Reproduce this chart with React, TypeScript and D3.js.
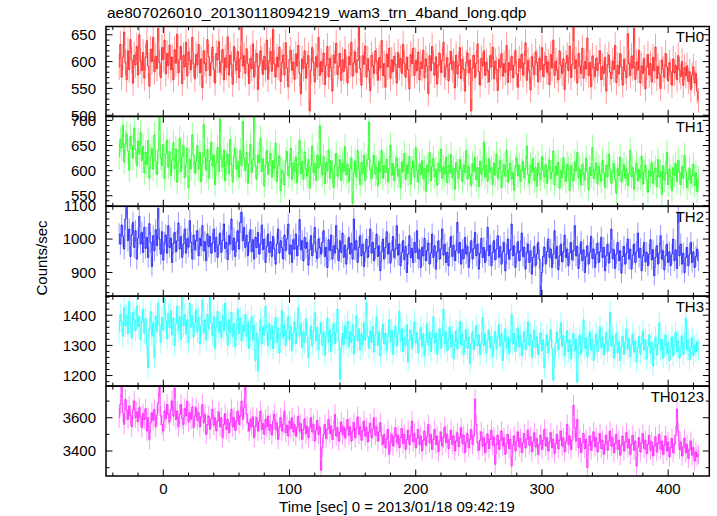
import React from "react";
import * as d3 from "d3";

const TITLE = "ae807026010_20130118094219_wam3_trn_4band_long.qdp";
const X_LABEL = "Time [sec] 0 = 2013/01/18 09:42:19";
const Y_LABEL = "Counts/sec";

// time bins: start (s) and width (s)
const BIN_START = -35;
const BIN_SIZE = 1;

const xDomain = [-45.4, 432.6];
const xMajorTicks = [0, 100, 200, 300, 400];
const xMinorStep = 20;

const th0 = [
  590, 632, 571, 608, 655, 598, 566, 620, 585, 641, 603, 560, 612, 594, 628, 575, 650, 601, 583, 617,
  569, 608, 639, 592, 554, 623, 600, 645, 581, 610, 587, 662, 598, 570, 626, 604, 640, 577, 615, 593,
  631, 585, 608, 566, 622, 597, 651, 579, 604, 628, 559, 611, 590, 636, 573, 618, 602, 585, 645, 596,
  568, 613, 594, 632, 579, 605, 551, 620, 597, 583, 641, 609, 574, 598, 627, 586, 560, 615, 603, 637,
  580, 599, 622, 566, 607, 589, 646, 575, 612, 595, 558, 628, 601, 584, 619, 570, 605, 664, 592, 611,
  578, 624, 596, 559, 606, 587, 633, 571, 599, 615, 548, 591, 620, 603, 576, 610, 585, 640, 567, 602,
  619, 582, 660, 596, 571, 608, 590, 627, 563, 598, 612, 575, 635, 588, 553, 604, 621, 584, 599, 567,
  614, 592, 630, 578, 540, 605, 587, 620, 569, 596, 611, 508, 583, 626, 598, 562, 609, 590, 645, 574,
  600, 581, 616, 557, 593, 628, 572, 606, 589, 545, 612, 597, 634, 576, 591, 615, 565, 603, 582, 622,
  588, 560, 609, 594, 636, 573, 598, 618, 580, 602, 665, 587, 556, 611, 595, 629, 571, 605, 584, 546,
  612, 593, 578, 620, 601, 565, 607, 588, 639, 574, 596, 552, 614, 590, 625, 569, 603, 581, 610, 594,
  560, 617, 589, 606, 578, 632, 597, 571, 608, 585, 549, 613, 596, 625, 574, 602, 583, 618, 566, 599,
  587, 621, 570, 605, 592, 540, 611, 583, 628, 597, 575, 609, 558, 594, 615, 580, 602, 636, 571, 590,
  607, 564, 596, 619, 585, 600, 551, 612, 577, 593, 626, 568, 604, 586, 545, 598, 616, 579, 603, 508,
  588, 612, 570, 597, 633, 581, 556, 606, 592, 620, 574, 599, 583, 562, 611, 590, 627, 568, 601, 585,
  546, 604, 589, 615, 573, 596, 580, 630, 561, 598, 584, 610, 570, 593, 621, 577, 552, 605, 588, 614,
  575, 596, 635, 565, 602, 583, 547, 609, 591, 576, 618, 598, 562, 606, 585, 626, 572, 594, 610, 580,
  599, 557, 613, 588, 640, 574, 601, 584, 566, 620, 593, 578, 605, 548, 597, 611, 583, 629, 570, 595,
  664, 587, 603, 560, 615, 592, 578, 625, 569, 600, 586, 644, 574, 598, 553, 610, 589, 572, 606, 584,
  597, 620, 566, 591, 578, 608, 545, 594, 612, 580, 568, 601, 585, 630, 561, 593, 577, 615, 590, 556,
  604, 583, 570, 652, 596, 574, 610, 588, 662, 567, 599, 584, 621, 560, 592, 578, 606, 549, 590, 613,
  575, 596, 562, 608, 583, 627, 569, 591, 578, 550, 603, 586, 571, 615, 590, 564, 598, 581, 556, 605,
  579, 593, 566, 611, 584, 572, 600, 556, 589, 574, 592, 563, 581, 548, 575, 590, 560, 578, 545, 528,
];

const th1 = [
  628, 662, 645, 690, 617, 654, 673, 639, 601, 668, 650, 625, 685, 642, 610, 659, 633, 676, 620, 648,
  596, 637, 612, 660, 585, 628, 644, 603, 671, 619, 592, 640, 706, 626, 610, 652, 584, 633, 661, 607,
  638, 590, 621, 656, 604, 643, 577, 617, 664, 598, 629, 650, 586, 613, 645, 566, 622, 604, 671, 631,
  595, 618, 650, 603, 636, 578, 614, 692, 627, 601, 642, 585, 620, 657, 609, 631, 572, 615, 646, 598,
  703, 623, 607, 641, 580, 616, 633, 594, 662, 612, 578, 628, 645, 603, 619, 587, 640, 610, 698, 625,
  600, 636, 575, 613, 652, 596, 622, 706, 609, 583, 631, 616, 664, 598, 624, 569, 611, 640, 593, 617,
  634, 587, 620, 605, 655, 578, 612, 629, 560, 601, 596, 571, 619, 638, 590, 608, 645, 583, 615, 598,
  627, 576, 612, 660, 594, 618, 583, 637, 603, 589, 622, 565, 608, 649, 596, 614, 580, 631, 605, 690,
  611, 592, 628, 574, 616, 600, 641, 585, 620, 597, 566, 610, 634, 589, 606, 622, 580, 615, 598, 648,
  592, 613, 578, 604, 625, 535, 596, 619, 587, 640, 603, 572, 616, 594, 631, 580, 609, 622, 697, 601,
  584, 612, 630, 593, 606, 570, 618, 599, 640, 585, 610, 596, 623, 577, 604, 651, 591, 614, 580, 607,
  625, 589, 603, 566, 617, 598, 634, 582, 611, 594, 628, 573, 605, 619, 587, 646, 600, 578, 613, 592,
  620, 584, 604, 559, 611, 597, 636, 580, 609, 624, 588, 602, 571, 615, 598, 643, 585, 607, 593, 627,
  576, 610, 595, 632, 587, 605, 563, 616, 599, 585, 622, 604, 578, 612, 596, 640, 583, 608, 590, 571,
  614, 598, 627, 582, 606, 568, 619, 593, 603, 657, 587, 611, 579, 624, 597, 606, 572, 615, 591, 633,
  585, 604, 620, 566, 598, 612, 589, 640, 577, 602, 615, 583, 596, 561, 608, 625, 590, 611, 579, 600,
  618, 586, 604, 649, 592, 575, 611, 597, 624, 580, 606, 569, 615, 594, 583, 628, 601, 588, 612, 574,
  603, 621, 584, 597, 639, 572, 609, 591, 617, 565, 600, 586, 626, 595, 579, 613, 604, 560, 610, 592,
  580, 617, 599, 636, 586, 603, 571, 612, 594, 581, 625, 598, 562, 607, 590, 646, 584, 601, 615, 573,
  608, 592, 579, 620, 596, 566, 611, 588, 633, 602, 575, 597, 614, 583, 555, 604, 590, 627, 578, 599,
  612, 585, 603, 570, 594, 641, 588, 606, 563, 597, 615, 580, 602, 586, 629, 573, 598, 611, 582, 557,
  600, 589, 616, 575, 596, 605, 568, 622, 587, 598, 553, 610, 581, 594, 636, 572, 603, 588, 560, 606,
  591, 614, 578, 620, 597, 572, 608, 585, 630, 599, 566, 583, 604, 575, 590, 612, 570, 596, 558, 585,
];

const th2 = [
  1015, 985, 1042, 1008, 970, 1060, 1098, 995, 1030, 948, 1012, 1050, 975, 1025, 940, 1003, 1068, 985, 1020, 960,
  1035, 972, 1005, 945, 1046, 990, 918, 1010, 965, 1028, 980, 1092, 1000, 955, 1022, 937, 990, 1012, 958, 1040,
  975, 1003, 930, 987, 1020, 962, 995, 1048, 970, 1008, 945, 985, 1030, 958, 1001, 976, 1055, 990, 940, 1012,
  968, 995, 1025, 950, 1002, 980, 1040, 965, 992, 935, 1015, 977, 1008, 958, 988, 1030, 962, 1005, 945, 983,
  1018, 960, 996, 1045, 972, 990, 938, 1010, 985, 1060, 967, 1003, 948, 992, 1025, 970, 1050, 1080, 995, 1035,
  975, 1012, 950, 990, 1028, 962, 998, 940, 1005, 975, 1020, 955, 985, 1042, 968, 1000, 930, 978, 1015, 960,
  992, 948, 1008, 970, 925, 985, 1030, 958, 995, 975, 940, 1012, 965, 1000, 1045, 955, 982, 930, 998, 970,
  1015, 950, 980, 1058, 968, 995, 935, 1005, 972, 990, 922, 968, 1010, 950, 985, 1035, 962, 942, 1000, 975,
  955, 990, 1025, 948, 975, 915, 998, 965, 1012, 940, 980, 958, 1040, 970, 935, 995, 960, 1018, 945, 982,
  925, 970, 1005, 955, 988, 940, 1060, 968, 995, 930, 975, 1010, 950, 985, 918, 962, 1000, 945, 978, 1030,
  958, 990, 935, 972, 1015, 948, 980, 905, 962, 1000, 940, 975, 1022, 955, 988, 928, 965, 1008, 945, 970,
  1040, 952, 985, 920, 960, 995, 938, 978, 900, 955, 1010, 945, 972, 930, 990, 960, 1025, 942, 968, 915,
  975, 950, 1002, 935, 965, 988, 925, 958, 1015, 945, 980, 910, 962, 995, 940, 970, 1030, 952, 985, 930,
  960, 920, 975, 1008, 948, 982, 935, 965, 1050, 958, 990, 925, 968, 942, 1005, 955, 978, 915, 960, 995,
  940, 972, 1020, 950, 985, 910, 958, 1002, 945, 975, 930, 965, 1035, 950, 982, 920, 960, 995, 938, 970,
  1010, 945, 978, 925, 962, 990, 905, 955, 1000, 940, 968, 1045, 950, 980, 915, 958, 992, 935, 965, 1018,
  948, 975, 910, 960, 985, 930, 965, 895, 945, 978, 920, 955, 990, 940, 832, 900, 948, 975, 925, 962,
  1000, 945, 970, 915, 955, 1025, 942, 978, 908, 950, 985, 932, 962, 1012, 945, 970, 920, 958, 990, 938,
  965, 1040, 950, 978, 912, 955, 992, 935, 968, 900, 948, 980, 925, 960, 1008, 942, 970, 915, 955, 988,
  930, 962, 1005, 945, 975, 905, 950, 985, 928, 960, 1030, 942, 968, 912, 955, 990, 935, 965, 898, 948,
  978, 925, 958, 1000, 940, 970, 910, 952, 985, 930, 962, 1018, 945, 972, 905, 950, 990, 932, 960, 920,
  955, 998, 938, 968, 890, 945, 980, 925, 958, 1010, 940, 965, 908, 950, 985, 930, 962, 920, 955, 1000,
  935, 968, 912, 1078, 950, 985, 925, 958, 900, 945, 975, 920, 955, 990, 930, 962, 915, 948, 970, 935,
];

const th3 = [
  1345, 1402, 1380, 1330, 1425, 1365, 1398, 1340, 1445, 1372, 1325, 1410, 1385, 1350, 1430, 1362, 1395, 1318, 1378, 1420,
  1340, 1388, 1300, 1225, 1355, 1412, 1330, 1375, 1260, 1398, 1345, 1440, 1368, 1310, 1392, 1350, 1455, 1380, 1322, 1405,
  1358, 1415, 1335, 1390, 1300, 1372, 1430, 1348, 1395, 1320, 1460, 1365, 1402, 1338, 1385, 1310, 1440, 1360, 1398, 1328,
  1375, 1418, 1345, 1392, 1305, 1366, 1450, 1340, 1385, 1318, 1402, 1355, 1460, 1375, 1332, 1395, 1290, 1360, 1412, 1345,
  1380, 1325, 1398, 1350, 1440, 1368, 1300, 1385, 1342, 1410, 1330, 1372, 1295, 1355, 1420, 1338, 1390, 1315, 1365, 1345,
  1402, 1330, 1378, 1290, 1350, 1395, 1318, 1368, 1250, 1340, 1215, 1325, 1385, 1305, 1362, 1335, 1430, 1348, 1298, 1372,
  1320, 1365, 1290, 1345, 1392, 1310, 1358, 1275, 1338, 1415, 1325, 1368, 1300, 1350, 1395, 1318, 1362, 1282, 1340, 1378,
  1305, 1355, 1425, 1330, 1372, 1292, 1345, 1310, 1388, 1335, 1260, 1322, 1365, 1298, 1350, 1408, 1315, 1360, 1285, 1338,
  1375, 1300, 1345, 1268, 1328, 1390, 1310, 1352, 1280, 1335, 1372, 1305, 1345, 1420, 1318, 1188, 1290, 1340, 1302, 1365,
  1322, 1380, 1295, 1345, 1310, 1368, 1272, 1330, 1398, 1315, 1355, 1285, 1338, 1302, 1375, 1318, 1440, 1330, 1290, 1348,
  1310, 1362, 1278, 1335, 1395, 1300, 1345, 1265, 1322, 1370, 1305, 1340, 1282, 1328, 1385, 1312, 1350, 1270, 1330, 1362,
  1298, 1340, 1412, 1315, 1355, 1280, 1325, 1300, 1368, 1245, 1318, 1350, 1290, 1335, 1378, 1308, 1342, 1275, 1320, 1360,
  1295, 1338, 1265, 1312, 1372, 1302, 1345, 1280, 1325, 1395, 1308, 1340, 1270, 1318, 1355, 1290, 1332, 1420, 1305, 1345,
  1282, 1320, 1362, 1295, 1335, 1255, 1310, 1348, 1288, 1325, 1380, 1300, 1338, 1270, 1315, 1352, 1290, 1328, 1240, 1305,
  1345, 1285, 1322, 1365, 1298, 1335, 1268, 1310, 1392, 1300, 1338, 1275, 1318, 1350, 1292, 1330, 1262, 1308, 1345, 1288,
  1325, 1370, 1298, 1338, 1250, 1312, 1355, 1290, 1328, 1272, 1315, 1402, 1305, 1340, 1280, 1320, 1358, 1295, 1332, 1265,
  1310, 1345, 1285, 1322, 1378, 1300, 1335, 1260, 1315, 1350, 1292, 1328, 1270, 1305, 1342, 1282, 1318, 1225, 1298, 1335,
  1275, 1315, 1352, 1290, 1185, 1262, 1308, 1345, 1285, 1322, 1375, 1298, 1332, 1265, 1310, 1348, 1280, 1318, 1255, 1302,
  1340, 1282, 1320, 1178, 1295, 1335, 1272, 1310, 1385, 1290, 1325, 1262, 1302, 1345, 1285, 1318, 1250, 1300, 1338, 1278,
  1315, 1360, 1292, 1328, 1268, 1305, 1342, 1280, 1318, 1410, 1298, 1332, 1258, 1300, 1340, 1275, 1312, 1250, 1295, 1330,
  1270, 1308, 1355, 1288, 1322, 1262, 1300, 1338, 1278, 1315, 1245, 1292, 1330, 1272, 1305, 1348, 1285, 1318, 1255, 1298,
  1335, 1275, 1310, 1232, 1290, 1328, 1268, 1305, 1375, 1285, 1320, 1258, 1298, 1335, 1272, 1310, 1250, 1292, 1328, 1265,
  1302, 1345, 1280, 1315, 1258, 1295, 1332, 1270, 1308, 1390, 1285, 1318, 1252, 1292, 1325, 1268, 1300, 1278, 1312, 1285,
];

const th0123 = [
  3600, 3680, 3785, 3630, 3560, 3710, 3645, 3590, 3670, 3615, 3545, 3650, 3700, 3600, 3635, 3575, 3660, 3610, 3540, 3625,
  3590, 3655, 3520, 3600, 3470, 3570, 3630, 3585, 3650, 3545, 3615, 3690, 3785, 3610, 3560, 3520, 3640, 3595, 3680, 3620,
  3575, 3650, 3700, 3610, 3778, 3590, 3640, 3545, 3620, 3680, 3595, 3560, 3655, 3610, 3700, 3575, 3630, 3590, 3665, 3540,
  3610, 3660, 3585, 3630, 3545, 3605, 3680, 3570, 3620, 3500, 3560, 3610, 3530, 3595, 3650, 3555, 3600, 3520, 3580, 3635,
  3545, 3600, 3480, 3560, 3625, 3530, 3590, 3510, 3570, 3650, 3545, 3600, 3525, 3580, 3640, 3560, 3610, 3700, 3590, 3660,
  3790, 3620, 3570, 3520, 3590, 3545, 3605, 3480, 3550, 3600, 3520, 3575, 3640, 3530, 3565, 3500, 3590, 3545, 3610, 3525,
  3560, 3495, 3580, 3620, 3530, 3570, 3470, 3545, 3600, 3520, 3560, 3640, 3510, 3555, 3490, 3580, 3535, 3600, 3515, 3560,
  3490, 3540, 3610, 3520, 3565, 3470, 3530, 3595, 3505, 3550, 3480, 3540, 3600, 3515, 3560, 3460, 3525, 3585, 3500, 3545,
  3285, 3420, 3500, 3560, 3475, 3530, 3590, 3505, 3550, 3470, 3525, 3620, 3490, 3540, 3460, 3515, 3575, 3500, 3545, 3480,
  3530, 3590, 3495, 3545, 3460, 3520, 3570, 3480, 3535, 3605, 3500, 3545, 3465, 3520, 3580, 3490, 3540, 3455, 3515, 3565,
  3480, 3530, 3600, 3495, 3545, 3460, 3515, 3570, 3490, 3440, 3500, 3420, 3470, 3530, 3380, 3455, 3500, 3430, 3485, 3540,
  3450, 3495, 3420, 3480, 3535, 3445, 3500, 3410, 3470, 3525, 3440, 3490, 3580, 3455, 3505, 3420, 3475, 3530, 3440, 3490,
  3400, 3465, 3520, 3435, 3485, 3560, 3450, 3500, 3410, 3470, 3530, 3440, 3490, 3395, 3460, 3515, 3430, 3480, 3545, 3450,
  3500, 3415, 3470, 3525, 3440, 3490, 3400, 3460, 3510, 3425, 3480, 3540, 3445, 3495, 3390, 3455, 3505, 3420, 3470, 3530,
  3440, 3490, 3712, 3560, 3450, 3405, 3465, 3515, 3430, 3480, 3390, 3450, 3500, 3415, 3470, 3525, 3435, 3485, 3320, 3440,
  3495, 3410, 3465, 3520, 3430, 3480, 3380, 3445, 3500, 3415, 3470, 3310, 3435, 3490, 3400, 3460, 3515, 3425, 3475, 3390,
  3450, 3505, 3420, 3470, 3525, 3435, 3485, 3395, 3455, 3510, 3425, 3475, 3380, 3440, 3495, 3410, 3465, 3530, 3430, 3480,
  3400, 3455, 3510, 3420, 3470, 3385, 3445, 3500, 3415, 3465, 3520, 3430, 3480, 3395, 3455, 3560, 3440, 3490, 3410, 3465,
  3676, 3540, 3460, 3590, 3420, 3475, 3390, 3450, 3505, 3415, 3470, 3300, 3435, 3490, 3405, 3460, 3515, 3425, 3480, 3395,
  3450, 3505, 3415, 3465, 3380, 3440, 3495, 3405, 3460, 3520, 3430, 3480, 3390, 3445, 3500, 3410, 3465, 3375, 3435, 3490,
  3400, 3455, 3510, 3420, 3470, 3380, 3440, 3495, 3405, 3460, 3310, 3425, 3480, 3395, 3450, 3505, 3415, 3465, 3385, 3440,
  3495, 3405, 3455, 3370, 3430, 3485, 3395, 3445, 3500, 3410, 3460, 3380, 3435, 3490, 3400, 3455, 3365, 3420, 3475, 3390,
  3440, 3495, 3652, 3520, 3410, 3455, 3370, 3425, 3475, 3390, 3440, 3355, 3410, 3460, 3375, 3420, 3340, 3395, 3365, 3380,
];

const panelNames = ["TH0", "TH1", "TH2", "TH3", "TH0123"];
const panelSeries = [th0, th1, th2, th3, th0123];
const panelDomains = [
  [497.8, 665.4],
  [529, 708],
  [829, 1098],
  [1165, 1463],
  [3250, 3790],
];
const panelTicks = [
  [500, 550, 600, 650],
  [550, 600, 650, 700],
  [900, 1000, 1100],
  [1200, 1300, 1400],
  [3400, 3600],
];
const panelMinorSteps = [10, 10, 20, 20, 100];
const panelColors = ["#ff0000", "#00ff00", "#0000ff", "#00ffff", "#ff00ff"];

const FONT = "'Liberation Sans', Arial, Helvetica, sans-serif";

export default function App() {
  const W = 717;
  const H = 516;
  const left = 106;
  const right = 709.3;
  const top = 26.5;
  const ph = 89.9;
  const majorLen = 6.5;
  const minorLen = 3.5;

  const x = d3.scaleLinear().domain(xDomain).range([left, right]);
  const xMinor = d3
    .range(Math.ceil(xDomain[0] / xMinorStep) * xMinorStep, xDomain[1], xMinorStep)
    .filter((v) => !xMajorTicks.includes(v));

  return (
    <svg
      width={W}
      height={H}
      viewBox={`0 0 ${W} ${H}`}
      style={{ position: "absolute", left: 0, top: 0, display: "block", background: "#fff" }}
      fontFamily={FONT}
    >
      <text x={107} y={18} fontSize={15.5} fill="#000">
        {TITLE}
      </text>
      {panelSeries.map((vals, pi) => {
        const y0 = top + pi * ph;
        const y1 = y0 + ph;
        const dom = panelDomains[pi];
        const y = d3.scaleLinear().domain(dom).range([y1, y0]);
        const color = panelColors[pi];
        const pts = vals.map((v, i) => ({
          t: BIN_START + i * BIN_SIZE,
          v,
          e: Math.sqrt(v * BIN_SIZE) / BIN_SIZE,
        }));
        let errPath = "";
        pts.forEach((p) => {
          const cx = x(p.t);
          errPath += `M${cx},${y(p.v - p.e)}V${y(p.v + p.e)}`;
        });
        const line = d3
          .line<{ t: number; v: number }>()
          .x((d) => x(d.t))
          .y((d) => y(d.v))
          .curve(d3.curveStep)(pts) as string;
        const step = panelMinorSteps[pi];
        const yMinor = d3
          .range(Math.ceil(dom[0] / step) * step, dom[1], step)
          .filter((v) => !panelTicks[pi].includes(v));
        const clipId = `clip${pi}`;
        return (
          <g key={pi}>
            <clipPath id={clipId}>
              <rect x={left} y={y0} width={right - left} height={ph} />
            </clipPath>
            <g clipPath={`url(#${clipId})`}>
              <path d={errPath} stroke={color} strokeWidth={1} fill="none" opacity={0.4} />
              <path d={line} stroke={color} strokeWidth={0.9} fill="none" opacity={0.85} />
            </g>
            <g stroke="#000" strokeWidth={1}>
              {panelTicks[pi].map((v) => (
                <g key={"M" + v}>
                  <line x1={left} x2={left + majorLen} y1={y(v)} y2={y(v)} />
                  <line x1={right} x2={right - majorLen} y1={y(v)} y2={y(v)} />
                </g>
              ))}
              {yMinor.map((v) => (
                <g key={"m" + v}>
                  <line x1={left} x2={left + minorLen} y1={y(v)} y2={y(v)} />
                  <line x1={right} x2={right - minorLen} y1={y(v)} y2={y(v)} />
                </g>
              ))}
              {xMajorTicks.map((v) => (
                <g key={"xM" + v}>
                  <line x1={x(v)} x2={x(v)} y1={y1} y2={y1 - majorLen} />
                  <line x1={x(v)} x2={x(v)} y1={y0} y2={y0 + majorLen} />
                </g>
              ))}
              {xMinor.map((v) => (
                <g key={"xm" + v}>
                  <line x1={x(v)} x2={x(v)} y1={y1} y2={y1 - minorLen} />
                  <line x1={x(v)} x2={x(v)} y1={y0} y2={y0 + minorLen} />
                </g>
              ))}
            </g>
            <rect x={left} y={y0} width={right - left} height={ph} fill="none" stroke="#000" strokeWidth={1.5} />
            {panelTicks[pi].map((v) => (
              <text key={"l" + v} x={96} y={y(v)} dy="0.36em" textAnchor="end" fontSize={15} fill="#000">
                {v}
              </text>
            ))}
            <text x={704} y={y0 + 15.5} textAnchor="end" fontSize={15} fill="#000">
              {panelNames[pi]}
            </text>
          </g>
        );
      })}
      {xMajorTicks.map((v) => (
        <text key={"xl" + v} x={x(v)} y={493.5} textAnchor="middle" fontSize={15} fill="#000">
          {v}
        </text>
      ))}
      <text x={397} y={511.5} textAnchor="middle" fontSize={15} fill="#000">
        {X_LABEL}
      </text>
      <text transform={`translate(46.5,258) rotate(-90)`} textAnchor="middle" fontSize={15} fill="#000">
        {Y_LABEL}
      </text>
    </svg>
  );
}
